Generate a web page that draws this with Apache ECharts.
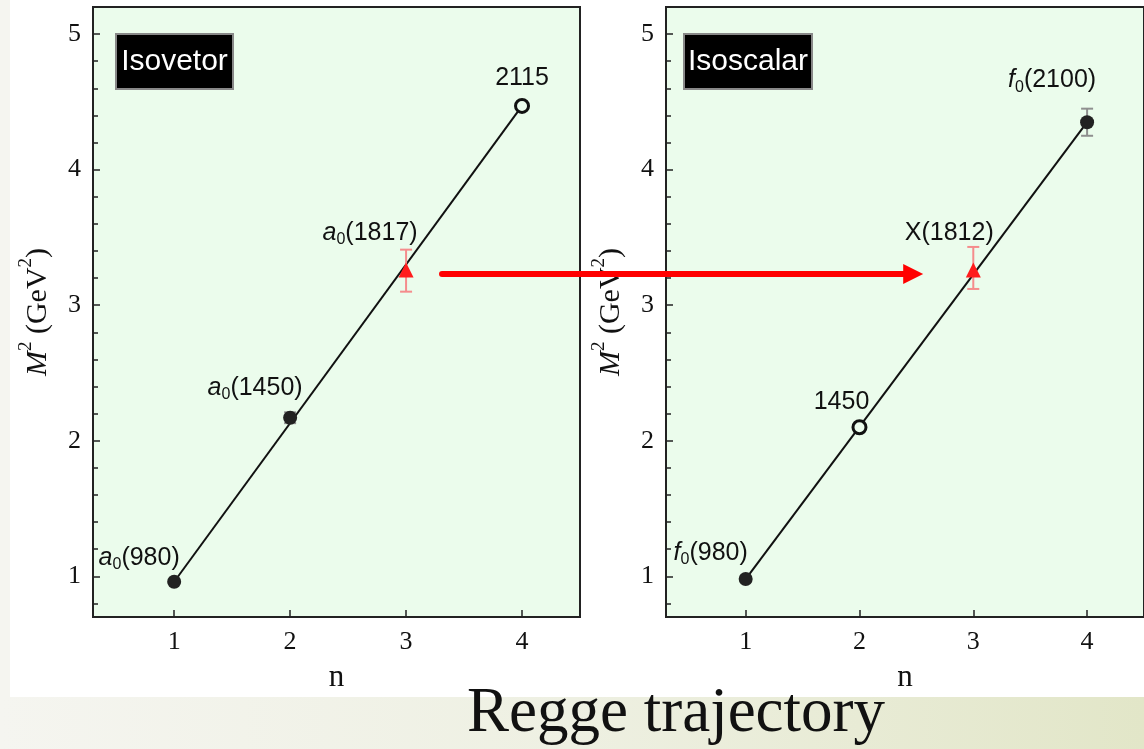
<!DOCTYPE html>
<html><head><meta charset="utf-8">
<script src="https://cdn.jsdelivr.net/npm/echarts@6/dist/echarts.min.js"></script>
<style>html,body{margin:0;padding:0;background:#fff}#c{width:1144px;height:749px}</style>
</head><body><div id="c"></div>
<script>
// ---------- data ----------
const nTicks = [1, 2, 3, 4];
const yMajorTicks = [1, 2, 3, 4, 5];
const yMinorTicks = [0.8, 1.2, 1.4, 1.6, 1.8, 2.2, 2.4, 2.6, 2.8, 3.2, 3.4, 3.6, 3.8, 4.2, 4.4, 4.6, 4.8, 5.2];

const isovectorN = [1, 2, 3, 4];
const isovectorNames = ['a0(980)', 'a0(1450)', 'a0(1817)', '2115'];
const isovectorM2 = [0.96, 2.17, 3.26, 4.47];
const isovectorKind = ['known', 'known', 'new', 'predicted'];
const isovectorErrLo = [null, 2.13, 3.10, null];
const isovectorErrHi = [null, 2.21, 3.41, null];
const isovectorFit = [[1, 0.96], [4, 4.47]];

const isoscalarN = [1, 2, 3, 4];
const isoscalarNames = ['f0(980)', '1450', 'X(1812)', 'f0(2100)'];
const isoscalarM2 = [0.98, 2.10, 3.26, 4.35];
const isoscalarKind = ['known', 'predicted', 'new', 'known'];
const isoscalarErrLo = [null, null, 3.12, 4.25];
const isoscalarErrHi = [null, null, 3.43, 4.45];
const isoscalarFit = [[1, 0.98], [4, 4.35]];

const panelTitles = ['Isovetor', 'Isoscalar'];
const mainTitle = 'Regge trajectory';
const arrowFrom = [3.31, 3.23];  // in left panel (n, M^2)
const arrowTo = [2.56, 3.23];    // in right panel (n, M^2)

// ---------- styles ----------
const BG = '#ebfcec';
const LABEL_OFFSETS = [
  [[-35, -24], [-35, -30], [-36, -37], [0, -28]],
  [[-35, -26], [-18, -25], [-24, -37], [-35, -42]]
];
const KIND_STYLE = {
  known: {symbol: 'circle', symbolSize: 14, itemStyle: {color: '#222', opacity: 1}},
  predicted: {symbol: 'circle', symbolSize: 13, itemStyle: {color: BG, borderColor: '#111', borderWidth: 3, opacity: 1}},
  new: {symbol: 'triangle', symbolSize: 15, itemStyle: {color: '#ff1c1c', opacity: 1}}
};
const SERIF = 'Liberation Serif';
const SANS = 'Liberation Sans';
const TXT = '#111';

function richName(name) {
  const m = name.match(/^([af])0(\(.*\))$/);
  if (m) return '{it|' + m[1] + '}{sub|0}{n|' + m[2] + '}';
  return '{n|' + name + '}';
}
const labelRich = {
  it: {fontFamily: SANS, fontStyle: 'italic', fontSize: 25, lineHeight: 30, color: TXT, verticalAlign: 'middle'},
  n: {fontFamily: SANS, fontSize: 25, lineHeight: 30, color: TXT, verticalAlign: 'middle'},
  sub: {fontFamily: SANS, fontSize: 16, lineHeight: 16, color: TXT, verticalAlign: 'bottom'}
};

function gridBox(i) {
  return {left: i === 0 ? 93 : 666, top: 7, width: 487, height: 610, show: true,
    backgroundColor: BG, borderColor: '#222', borderWidth: 2};
}
function xAxisCfg(i) {
  return {type: 'value', gridIndex: i, min: 0.3, max: 4.5,
    axisLine: {show: true, onZero: false, lineStyle: {color: '#222', width: 2}},
    axisTick: {inside: true, length: 7, customValues: nTicks, lineStyle: {color: '#222', width: 1.5}},
    axisLabel: {customValues: nTicks, fontFamily: SERIF, fontSize: 26, color: TXT, margin: 12},
    splitLine: {show: false},
    name: 'n', nameLocation: 'middle', nameGap: 45,
    nameTextStyle: {fontFamily: SERIF, fontSize: 31, color: TXT}};
}
function yAxisCfg(i) {
  return {type: 'value', gridIndex: i, min: 0.7, max: 5.2, position: 'left',
    axisLine: {show: true, onZero: false, lineStyle: {color: '#222', width: 2}},
    axisTick: {inside: true, length: 7, customValues: yMajorTicks, lineStyle: {color: '#222', width: 1.5}},
    axisLabel: {customValues: yMajorTicks, fontFamily: SERIF, fontSize: 26, color: TXT, margin: 12},
    splitLine: {show: false},
    name: '{it|M}{sup|2}{n| (GeV}{sup|2}{n|)}', nameLocation: 'middle', nameGap: 40, nameRotate: 90,
    nameTextStyle: {rich: {
      it: {fontFamily: SERIF, fontStyle: 'italic', fontSize: 30, lineHeight: 36, color: TXT, verticalAlign: 'bottom'},
      n: {fontFamily: SERIF, fontSize: 30, lineHeight: 36, color: TXT, verticalAlign: 'bottom'},
      sup: {fontFamily: SERIF, fontSize: 19, lineHeight: 22, color: TXT, verticalAlign: 'top'}
    }}};
}
function yMinorCfg(i) {
  return {type: 'value', gridIndex: i, min: 0.7, max: 5.2, position: 'left', offset: 0,
    axisLine: {show: false}, axisLabel: {show: false}, splitLine: {show: false},
    axisTick: {show: true, inside: true, length: 5, customValues: yMinorTicks, lineStyle: {color: '#222', width: 1.5}}};
}

function panelSeries(i, ns, names, m2, kinds, lo, hi, fit) {
  const pts = ns.map((n, k) => Object.assign({
    value: [n, m2[k]], name: names[k],
    label: {show: true, position: 'inside', offset: LABEL_OFFSETS[i][k], color: TXT,
      textBorderWidth: 0, textBorderColor: 'transparent',
      formatter: richName(names[k]), rich: labelRich}
  }, KIND_STYLE[kinds[k]]));
  const errs = [];
  ns.forEach((n, k) => { if (lo[k] != null) errs.push({value: [n, lo[k], hi[k]], kind: kinds[k]}); });
  return [
    {type: 'line', xAxisIndex: i, yAxisIndex: i * 2, data: fit, symbol: 'none', silent: true,
      lineStyle: {color: '#111', width: 2}, z: 2},
    {type: 'custom', xAxisIndex: i, yAxisIndex: i * 2, z: 3,
      data: errs.map(e => ({value: e.value, itemStyle: {color: e.kind === 'new' ? '#f58c8c' : '#8f8f8f'}})),
      renderItem: function (params, api) {
        const x = api.value(0);
        const p1 = api.coord([x, api.value(1)]);
        const p2 = api.coord([x, api.value(2)]);
        const col = api.visual('color');
        const st = {stroke: col, lineWidth: 2};
        const w = 6;
        return {type: 'group', children: [
          {type: 'line', shape: {x1: p1[0], y1: p1[1], x2: p2[0], y2: p2[1]}, style: st},
          {type: 'line', shape: {x1: p1[0] - w, y1: p1[1], x2: p1[0] + w, y2: p1[1]}, style: st},
          {type: 'line', shape: {x1: p2[0] - w, y1: p2[1], x2: p2[0] + w, y2: p2[1]}, style: st}
        ]};
      }},
    {type: 'scatter', xAxisIndex: i, yAxisIndex: i * 2, data: pts, z: 4, itemStyle: {opacity: 1}}
  ];
}

const chart = echarts.init(document.getElementById('c'), null, {renderer: 'canvas'});
const option = {
  backgroundColor: '#ffffff',
  animation: false,
  title: {text: mainTitle, left: 462, top: 678,
    textStyle: {fontFamily: SERIF, fontSize: 63, fontWeight: 'normal', color: '#111'}},
  grid: [gridBox(0), gridBox(1)],
  xAxis: [xAxisCfg(0), xAxisCfg(1)],
  yAxis: [yAxisCfg(0), yMinorCfg(0), yAxisCfg(1), yMinorCfg(1)],
  series: [].concat(
    panelSeries(0, isovectorN, isovectorNames, isovectorM2, isovectorKind, isovectorErrLo, isovectorErrHi, isovectorFit),
    panelSeries(1, isoscalarN, isoscalarNames, isoscalarM2, isoscalarKind, isoscalarErrLo, isoscalarErrHi, isoscalarFit)
  ),
  graphic: [
    {type: 'rect', id: 'bgLeft', z: -100, silent: true, shape: {x: 0, y: 0, width: 10, height: 749}, style: {fill: '#f5f5f0'}},
    {type: 'rect', id: 'bgBand', z: -100, silent: true, shape: {x: 0, y: 697, width: 1144, height: 52},
      style: {fill: new echarts.graphic.LinearGradient(0, 0, 1, 0, [{offset: 0, color: '#f5f5f0'}, {offset: 0.5, color: '#eef0e2'}, {offset: 1, color: '#e2e6c8'}])}},
    {type: 'rect', id: 'box0', z: 10, shape: {x: 116, y: 34, width: 117, height: 55}, style: {fill: '#000', stroke: '#888', lineWidth: 2}},
    {type: 'text', id: 'box0t', z: 11, x: 174.5, y: 61.5, style: {text: panelTitles[0], fill: '#fff', font: '30px "Liberation Sans"', textAlign: 'center', textVerticalAlign: 'middle'}},
    {type: 'rect', id: 'box1', z: 10, shape: {x: 684, y: 34, width: 128, height: 55}, style: {fill: '#000', stroke: '#888', lineWidth: 2}},
    {type: 'text', id: 'box1t', z: 11, x: 748, y: 61.5, style: {text: panelTitles[1], fill: '#fff', font: '30px "Liberation Sans"', textAlign: 'center', textVerticalAlign: 'middle'}}
  ]
};
chart.setOption(option);

const a0 = chart.convertToPixel({gridIndex: 0}, arrowFrom);
const a1 = chart.convertToPixel({gridIndex: 1}, arrowTo);
chart.setOption({graphic: [
  {type: 'line', id: 'arrowLine', z: 20, shape: {x1: a0[0], y1: a0[1], x2: a1[0] - 16, y2: a1[1]},
    style: {stroke: '#ff0000', lineWidth: 6, lineCap: 'round'}},
  {type: 'polygon', id: 'arrowHead', z: 20, shape: {points: [[a1[0] - 20, a1[1] - 10], [a1[0], a1[1]], [a1[0] - 20, a1[1] + 10]]},
    style: {fill: '#ff0000'}}
]});
</script></body></html>
